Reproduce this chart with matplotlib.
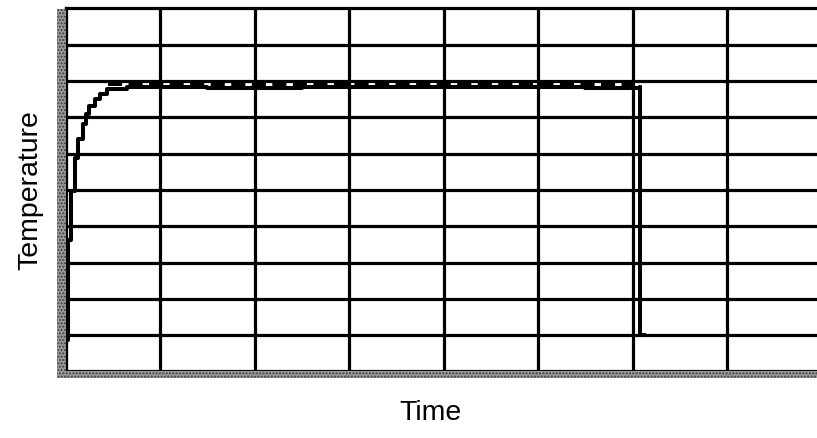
import matplotlib
matplotlib.use("Agg")
import matplotlib.pyplot as plt
from matplotlib.patches import Rectangle

plt.rcParams['font.family'] = ['Liberation Sans', 'DejaVu Sans']
plt.rcParams['hatch.color'] = '#404040'

# Measured temperature (solid, stepped)
meas_time = [0.016, 0.026, 0.058, 0.10, 0.13, 0.185, 0.217, 0.25, 0.31, 0.365, 0.44, 0.65,
             1.5, 2.5, 3.5, 4.5, 5.5, 6.08, 6.08, 6.12]
meas_temp = [0.86, 3.61, 4.98, 5.89, 6.41, 6.82, 7.10, 7.32, 7.51, 7.65, 7.79, 7.84,
             7.82, 7.84, 7.83, 7.84, 7.82, 7.83, 1.0, 1.0]

# Set point (dashed)
set_time = [0.45, 6.0]
set_temp = [7.93, 7.93]

W, H = 817, 438
fig = plt.figure(figsize=(W / 100, H / 100), dpi=100)
left_px, right_px = 65.5, 817
top_px, bot_px = 8.5, 371.4
ax = fig.add_axes([left_px / W, 1 - bot_px / H, (right_px - left_px) / W, (bot_px - top_px) / H])
ax.set_xlim(0, (right_px - left_px) / 94.5)
ax.set_ylim(0, 10)
ax.set_xticks(range(1, 8))
ax.set_yticks(range(1, 10))
ax.tick_params(length=0, labelbottom=False, labelleft=False)
ax.grid(True, color='black', linewidth=2.3)
for s in ['left', 'top', 'bottom']:
    ax.spines[s].set_linewidth(2.3)
ax.spines['right'].set_visible(False)

ax.plot(meas_time, meas_temp, color='black', linewidth=2.9, drawstyle='steps-post', zorder=3)
ax.plot(set_time, set_temp, color='black', linewidth=2.9, linestyle=(0, (3.5, 1.6)), zorder=3)

# Gray chart wall / floor bands
fig.patches.append(Rectangle((57 / W, 1 - 378 / H), 8.5 / W, (378 - 9) / H, transform=fig.transFigure,
                             facecolor='#9a9a9a', hatch='.....', linewidth=0, zorder=0))
fig.patches.append(Rectangle((57 / W, 1 - 378 / H), (817 - 57) / W, 6.6 / H, transform=fig.transFigure,
                             facecolor='#9a9a9a', hatch='.....', linewidth=0, zorder=0))

fig.text(30 / W, 1 - 190 / H, 'Temperature', rotation=90, ha='center', va='center', fontsize=20.5)
fig.text(430 / W, 1 - 413 / H, 'Time', ha='center', va='center', fontsize=20.5)

fig.savefig('out.png', dpi=100)
